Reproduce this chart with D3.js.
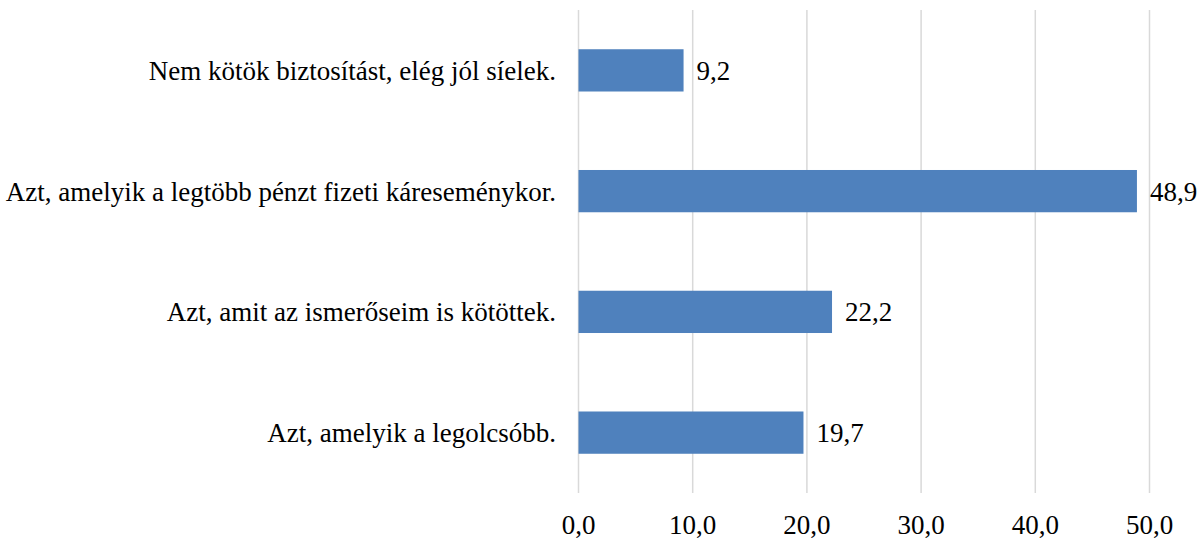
<!DOCTYPE html>
<html><head><meta charset="utf-8"><script src="https://cdn.jsdelivr.net/npm/d3@7"></script></head>
<body style="margin:0">
<svg id="s" width="1203" height="540"></svg>
<script>
// Survey answers (top to bottom) and their shares in percent
const categories = [
  "Nem kötök biztosítást, elég jól síelek.",
  "Azt, amelyik a legtöbb pénzt fizeti káreseménykor.",
  "Azt, amit az ismerőseim is kötöttek.",
  "Azt, amelyik a legolcsóbb."
];
const values = [9.2, 48.9, 22.2, 19.7];
const tickValues = [0, 10, 20, 30, 40, 50];
const fonts = ["Liberation Serif"];

const fmt = v => v.toFixed(1).replace(".", ",");
const face = () => fonts[0];

const svg = d3.select("#s");
const W = 1203, H = 540;
const mLeft = 578.5, mRight = 53.5, mTop = 10, mBottom = 47;

const x = d3.scaleLinear().domain([0, 50]).range([mLeft, W - mRight]);
const y = d3.scaleBand().domain(categories).range([mTop, H - mBottom])
  .paddingInner(0.65).paddingOuter(0.325);

// vertical gridlines
svg.selectAll("line").data(tickValues).join("line")
  .attr("x1", d => x(d)).attr("x2", d => x(d))
  .attr("y1", mTop).attr("y2", H - mBottom)
  .attr("stroke", "#d9d9d9").attr("stroke-width", 1.5);

// bars
svg.selectAll("rect").data(values).join("rect")
  .attr("x", x(0))
  .attr("y", (d, i) => y(categories[i]))
  .attr("width", d => x(d) - x(0))
  .attr("height", y.bandwidth())
  .attr("fill", "#4F81BD");

// x tick labels
svg.selectAll("text.tick").data(tickValues).join("text")
  .attr("class", "tick")
  .attr("x", d => x(d)).attr("y", 534)
  .attr("font-family", face).attr("font-size", 27)
  .attr("text-anchor", "middle")
  .text(fmt);

// value labels
svg.selectAll("text.val").data(values).join("text")
  .attr("class", "val")
  .attr("x", d => x(d) + 13)
  .attr("y", (d, i) => y(categories[i]) + y.bandwidth() / 2 + 9.5)
  .attr("font-family", face).attr("font-size", 27)
  .text(fmt);

// category labels
svg.selectAll("text.cat").data(categories).join("text")
  .attr("class", "cat")
  .attr("x", 556)
  .attr("y", d => y(d) + y.bandwidth() / 2 + 9.5)
  .attr("font-family", face).attr("font-size", 27)
  .attr("text-anchor", "end")
  .text(d => d);
</script></body></html>
